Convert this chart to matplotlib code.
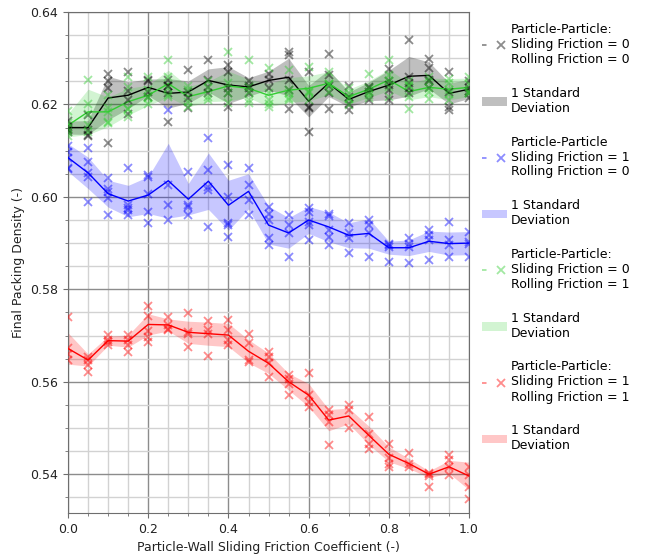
import matplotlib
matplotlib.use("Agg")
import matplotlib.pyplot as plt
from matplotlib.lines import Line2D
from matplotlib.patches import Patch
from matplotlib.legend_handler import HandlerTuple
from matplotlib.ticker import MultipleLocator
import numpy as np

# Particle-wall sliding friction coefficients tested
wall_friction = [0.0, 0.05, 0.1, 0.15, 0.2, 0.25, 0.3, 0.35, 0.4, 0.45, 0.5,
                 0.55, 0.6, 0.65, 0.7, 0.75, 0.8, 0.85, 0.9, 0.95, 1.0]

# --- Sliding = 0, Rolling = 0 ---
s0r0_mean = [0.6150, 0.6150, 0.6214, 0.6220, 0.6237, 0.6224, 0.6227, 0.6252, 0.6242, 0.6238, 0.6252,
             0.6259, 0.6207, 0.6246, 0.6211, 0.6228, 0.6242, 0.6261, 0.6263, 0.6224, 0.6233]
s0r0_std = [0.0014, 0.0015, 0.0047, 0.0029, 0.0018, 0.0032, 0.0024, 0.0025, 0.0040, 0.0020, 0.0020,
            0.0041, 0.0034, 0.0029, 0.0016, 0.0020, 0.0032, 0.0043, 0.0029, 0.0023, 0.0020]
s0r0_trials = [
    [0.6165, 0.6152, 0.6148, 0.6140, 0.6145],
    [0.6177, 0.6145, 0.6134, 0.6131],
    [0.6266, 0.6250, 0.6235, 0.6116],
    [0.6271, 0.6230, 0.6210, 0.6180],
    [0.6253, 0.6250, 0.6217, 0.6228],
    [0.6253, 0.6240, 0.6224, 0.6163, 0.6240],
    [0.6274, 0.6228, 0.6213, 0.6193],
    [0.6296, 0.6253, 0.6238, 0.6225],
    [0.6285, 0.6271, 0.6235, 0.6224, 0.6195],
    [0.6250, 0.6240, 0.6235, 0.6225],
    [0.6267, 0.6253, 0.6235],
    [0.6314, 0.6307, 0.6253, 0.6231, 0.6190],
    [0.6271, 0.6195, 0.6192, 0.6141],
    [0.6310, 0.6264, 0.6240, 0.6224, 0.6190],
    [0.6217, 0.6200, 0.6188, 0.6240],
    [0.6238, 0.6228, 0.6210, 0.6236],
    [0.6276, 0.6250, 0.6243, 0.6210, 0.6231],
    [0.6339, 0.6260, 0.6246, 0.6235, 0.6225],
    [0.6299, 0.6278, 0.6250, 0.6235, 0.6253],
    [0.6271, 0.6228, 0.6195, 0.6188],
    [0.6250, 0.6235, 0.6225, 0.6215, 0.6230],
]

# --- Sliding = 1, Rolling = 0 ---
s1r0_mean = [0.6085, 0.6052, 0.6007, 0.5991, 0.6004, 0.6035, 0.5995, 0.6034, 0.5982, 0.6012, 0.5939,
             0.5922, 0.5950, 0.5935, 0.5917, 0.5921, 0.5890, 0.5890, 0.5904, 0.5899, 0.5900]
s1r0_std = [0.0030, 0.0034, 0.0029, 0.0034, 0.0040, 0.0081, 0.0034, 0.0061, 0.0054, 0.0038, 0.0041,
            0.0033, 0.0029, 0.0032, 0.0027, 0.0032, 0.0014, 0.0017, 0.0022, 0.0025, 0.0025]
s1r0_trials = [
    [0.6110, 0.6098, 0.6085, 0.6062, 0.6060],
    [0.6105, 0.6075, 0.6051, 0.6044, 0.5990],
    [0.6040, 0.6018, 0.6011, 0.5997, 0.5961],
    [0.6062, 0.5982, 0.5975, 0.5971, 0.5961],
    [0.6047, 0.6044, 0.6007, 0.5968, 0.5943],
    [0.6188, 0.6026, 0.5982, 0.5950],
    [0.6054, 0.5982, 0.5979, 0.5961],
    [0.6127, 0.6058, 0.6022, 0.6015, 0.5935],
    [0.6069, 0.6000, 0.5943, 0.5939, 0.5914],
    [0.6062, 0.6026, 0.5993, 0.5961],
    [0.5979, 0.5964, 0.5950, 0.5910, 0.5896],
    [0.5961, 0.5939, 0.5921, 0.5870],
    [0.5975, 0.5968, 0.5946, 0.5939, 0.5907],
    [0.5964, 0.5958, 0.5928, 0.5914, 0.5896],
    [0.5943, 0.5921, 0.5910, 0.5878],
    [0.5950, 0.5939, 0.5921, 0.5870],
    [0.5899, 0.5895, 0.5892, 0.5860],
    [0.5910, 0.5898, 0.5892, 0.5856],
    [0.5928, 0.5917, 0.5907, 0.5863],
    [0.5946, 0.5907, 0.5896, 0.5870],
    [0.5925, 0.5903, 0.5898, 0.5870],
]

# --- Sliding = 0, Rolling = 1 ---
s0r1_mean = [0.6155, 0.6184, 0.6184, 0.6206, 0.6220, 0.6245, 0.6217, 0.6228, 0.6240, 0.6235, 0.6220,
             0.6231, 0.6235, 0.6246, 0.6217, 0.6233, 0.6253, 0.6228, 0.6237, 0.6233, 0.6237]
s0r1_std = [0.0025, 0.0049, 0.0032, 0.0029, 0.0022, 0.0029, 0.0022, 0.0022, 0.0032, 0.0020, 0.0025,
            0.0027, 0.0027, 0.0025, 0.0016, 0.0018, 0.0023, 0.0018, 0.0020, 0.0023, 0.0020]
s0r1_trials = [
    [0.6185, 0.6159, 0.6150, 0.6140, 0.6132],
    [0.6253, 0.6200, 0.6180, 0.6155, 0.6140],
    [0.6220, 0.6193, 0.6184, 0.6163, 0.6160],
    [0.6260, 0.6238, 0.6191, 0.6190, 0.6173],
    [0.6260, 0.6231, 0.6217, 0.6200, 0.6215],
    [0.6296, 0.6260, 0.6235, 0.6217, 0.6220],
    [0.6240, 0.6231, 0.6195, 0.6205],
    [0.6250, 0.6235, 0.6217, 0.6210],
    [0.6314, 0.6246, 0.6224, 0.6203],
    [0.6296, 0.6238, 0.6228, 0.6210, 0.6203],
    [0.6278, 0.6225, 0.6210, 0.6195, 0.6200],
    [0.6274, 0.6231, 0.6210, 0.6215, 0.6225],
    [0.6281, 0.6228, 0.6210, 0.6230, 0.6225],
    [0.6271, 0.6242, 0.6228, 0.6245, 0.6245],
    [0.6235, 0.6225, 0.6215, 0.6212, 0.6198],
    [0.6267, 0.6235, 0.6228, 0.6220, 0.6215],
    [0.6296, 0.6238, 0.6217, 0.6250, 0.6264],
    [0.6242, 0.6217, 0.6191, 0.6250, 0.6240],
    [0.6260, 0.6235, 0.6228, 0.6250, 0.6212],
    [0.6256, 0.6246, 0.6231, 0.6210, 0.6222],
    [0.6260, 0.6245, 0.6230, 0.6225, 0.6225],
]

# --- Sliding = 1, Rolling = 1 ---
s1r1_mean = [0.5672, 0.5647, 0.5689, 0.5688, 0.5724, 0.5723, 0.5707, 0.5704, 0.5701, 0.5666, 0.5640,
             0.5600, 0.5571, 0.5517, 0.5526, 0.5484, 0.5443, 0.5423, 0.5400, 0.5416, 0.5396]
s1r1_std = [0.0034, 0.0013, 0.0010, 0.0013, 0.0023, 0.0013, 0.0024, 0.0025, 0.0025, 0.0025, 0.0022,
            0.0018, 0.0025, 0.0023, 0.0017, 0.0020, 0.0016, 0.0011, 0.0007, 0.0014, 0.0030]
s1r1_trials = [
    [0.5740, 0.5672, 0.5660, 0.5647],
    [0.5654, 0.5647, 0.5636, 0.5621],
    [0.5701, 0.5690, 0.5686, 0.5679],
    [0.5701, 0.5690, 0.5679, 0.5665],
    [0.5764, 0.5742, 0.5710, 0.5697, 0.5686],
    [0.5740, 0.5723, 0.5715, 0.5712],
    [0.5748, 0.5708, 0.5704, 0.5676],
    [0.5732, 0.5712, 0.5704, 0.5655],
    [0.5733, 0.5712, 0.5690, 0.5679],
    [0.5704, 0.5683, 0.5647, 0.5643],
    [0.5665, 0.5654, 0.5640, 0.5611],
    [0.5614, 0.5607, 0.5596, 0.5571],
    [0.5618, 0.5571, 0.5557, 0.5546],
    [0.5538, 0.5528, 0.5513, 0.5463],
    [0.5549, 0.5538, 0.5499],
    [0.5524, 0.5488, 0.5466, 0.5455],
    [0.5466, 0.5434, 0.5423, 0.5416],
    [0.5445, 0.5423, 0.5416],
    [0.5403, 0.5400, 0.5396, 0.5372],
    [0.5441, 0.5430, 0.5416, 0.5398],
    [0.5416, 0.5398, 0.5373, 0.5347],
]

series_labels = [
    "Particle-Particle:\nSliding Friction = 0\nRolling Friction = 0",
    "Particle-Particle\nSliding Friction = 1\nRolling Friction = 0",
    "Particle-Particle:\nSliding Friction = 0\nRolling Friction = 1",
    "Particle-Particle:\nSliding Friction = 1\nRolling Friction = 1",
]
band_label = "1 Standard\nDeviation"

series = [
    (s0r0_mean, s0r0_std, s0r0_trials, "black", 0.25),
    (s1r0_mean, s1r0_std, s1r0_trials, "blue", 0.22),
    (s0r1_mean, s0r1_std, s0r1_trials, "limegreen", 0.22),
    (s1r1_mean, s1r1_std, s1r1_trials, "red", 0.22),
]

plt.rcParams["font.family"] = ["DejaVu Sans"]
plt.rcParams["font.size"] = 9

fig = plt.figure(figsize=(6.49, 5.6), dpi=100)
ax = fig.add_axes([0.1048, 0.0839, 0.618, 0.8946])

x = np.array(wall_friction)
handles, labels = [], []
for (mean, std, trials, color, band_alpha), label in zip(series, series_labels):
    mean = np.array(mean)
    std = np.array(std)
    ax.fill_between(x, mean - std, mean + std, color=color, alpha=band_alpha,
                    linewidth=0, zorder=2)
    ax.plot(x, mean, color=color, linewidth=1.0, zorder=3)
    tx = [xv for xv, t in zip(wall_friction, trials) for _ in t]
    ty = [v for t in trials for v in t]
    ax.plot(tx, ty, linestyle="none", marker="x", markersize=6, markeredgewidth=1.3,
            color=color, alpha=0.45, zorder=4)

    dash = Line2D([], [], color=color, alpha=0.45, linewidth=1.3, linestyle=(0, (2.5, 100)))
    mark = Line2D([], [], color=color, alpha=0.45, linestyle="none", marker="x",
                  markersize=6, markeredgewidth=1.3)
    handles.append((dash, mark))
    labels.append(label)
    handles.append(Patch(facecolor=color, alpha=band_alpha, edgecolor="none"))
    labels.append(band_label)

ax.set_xlim(0.0, 1.0)
ax.set_ylim(0.5316, 0.64)
ax.xaxis.set_major_locator(MultipleLocator(0.2))
ax.xaxis.set_minor_locator(MultipleLocator(0.05))
ax.yaxis.set_major_locator(MultipleLocator(0.02))
ax.yaxis.set_minor_locator(MultipleLocator(0.005))
ax.set_axisbelow(True)
ax.grid(which="major", color="#8c8c8c", linewidth=1.0)
ax.grid(which="minor", color="#d2d2d2", linewidth=1.0)
for sp in ax.spines.values():
    sp.set_color("#6e6e6e")
ax.tick_params(which="both", colors="#6e6e6e", labelcolor="#222222")

ax.set_xlabel("Particle-Wall Sliding Friction Coefficient (-)", color="#222222")
ax.set_ylabel("Final Packing Density (-)", color="#222222")

fig.legend(handles, labels, loc="upper left", bbox_to_anchor=(482 / 649, 1 - 23 / 560),
           bbox_transform=fig.transFigure, frameon=False, borderpad=0, borderaxespad=0,
           handlelength=2.0, handletextpad=0.3, labelspacing=1.66,
           handler_map={tuple: HandlerTuple(ndivide=None, pad=0)})

fig.savefig("out.png", dpi=100)
